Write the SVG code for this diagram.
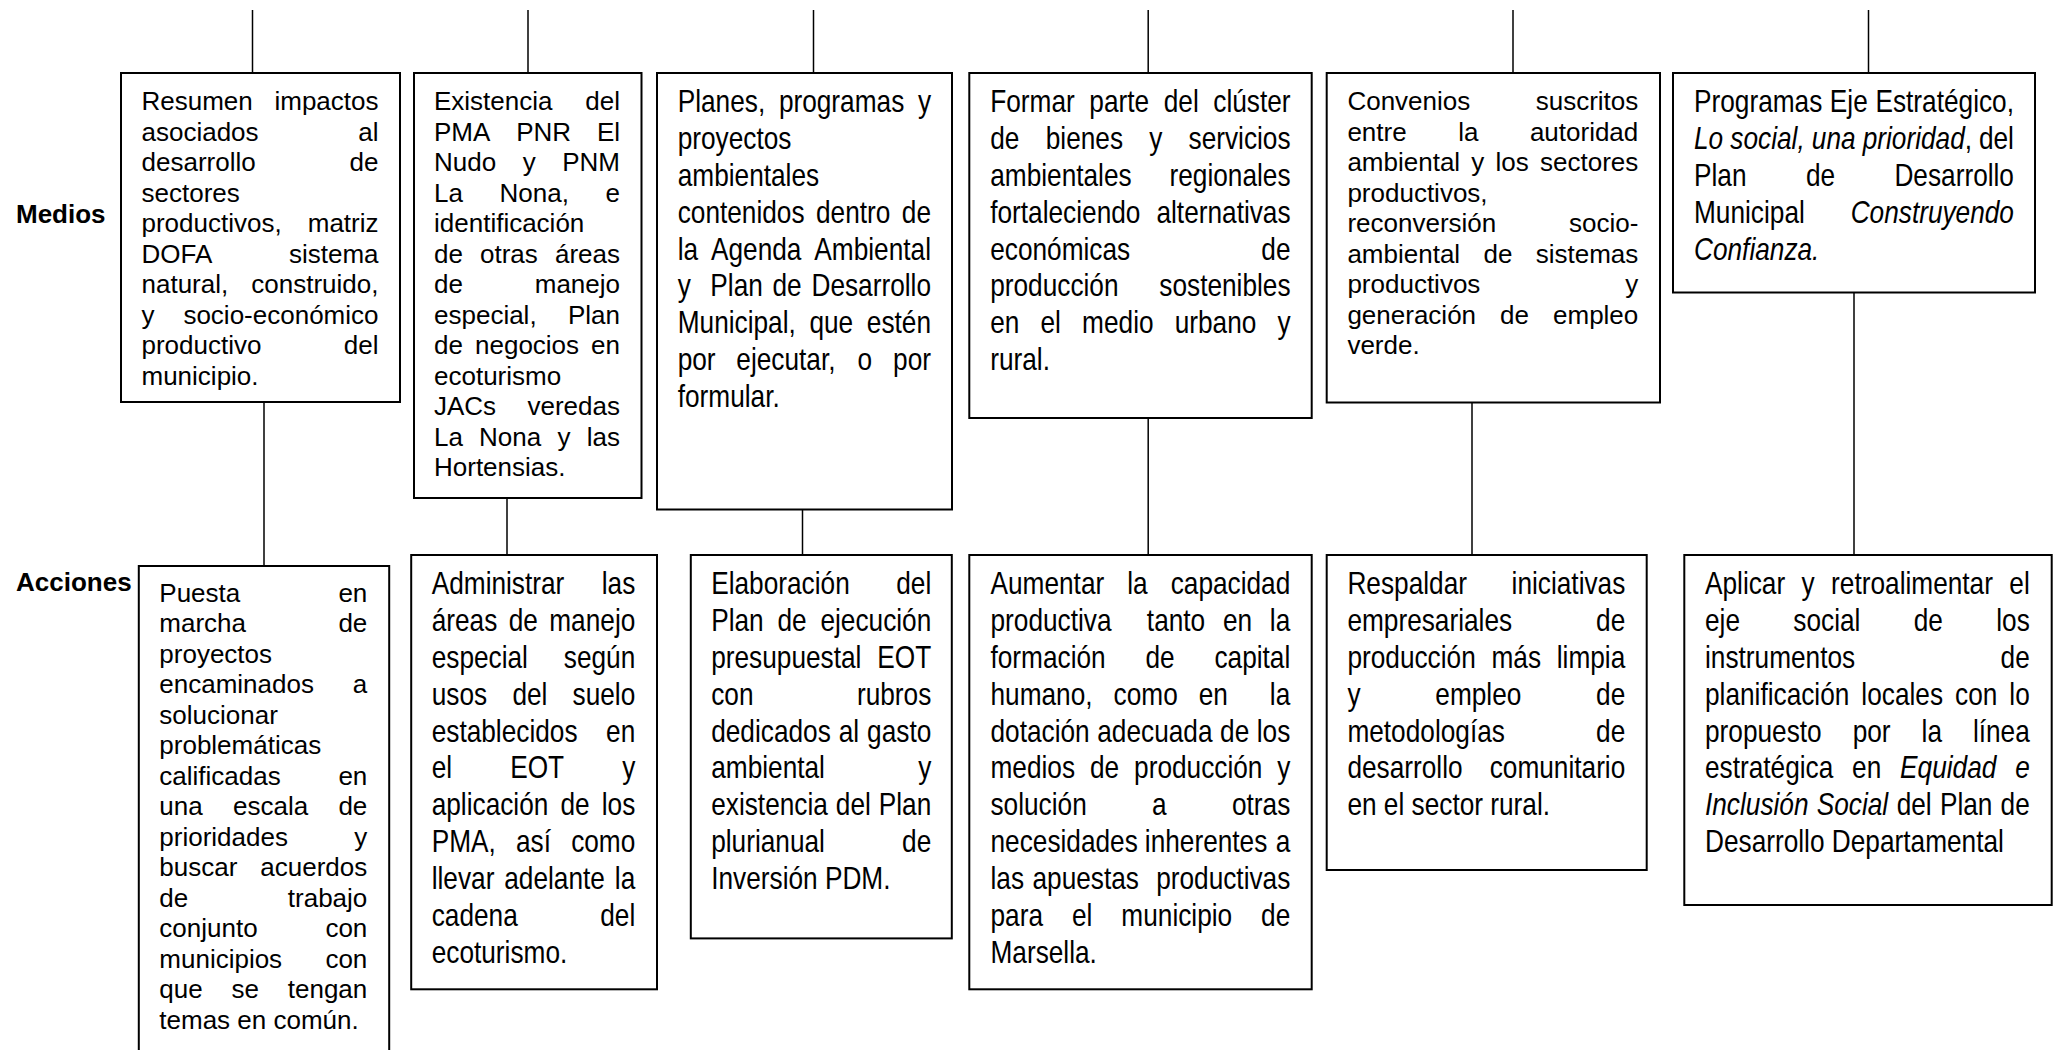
<svg xmlns="http://www.w3.org/2000/svg" width="2058" height="1050" viewBox="0 0 2058 1050">
<style>
text{font-family:'Liberation Sans',Arial,sans-serif;fill:#000}
.t{font-size:26px}
.n text{font-size:32px}
.e{text-anchor:end}
.i{font-style:italic}
.lab{font-size:26px;font-weight:bold}
.box{fill:#fff;stroke:#000;stroke-width:2}
.ln{stroke:#000;stroke-width:1.5;fill:none}
</style>
<rect width="2058" height="1050" fill="#fff"/>
<g id="connectors">
<line class="ln" x1="252.5" y1="10" x2="252.5" y2="73"/>
<line class="ln" x1="528" y1="10" x2="528" y2="73"/>
<line class="ln" x1="813.5" y1="10" x2="813.5" y2="73"/>
<line class="ln" x1="1148.2" y1="10" x2="1148.2" y2="73"/>
<line class="ln" x1="1513" y1="10" x2="1513" y2="73"/>
<line class="ln" x1="1868.5" y1="10" x2="1868.5" y2="73"/>
<line class="ln" x1="264" y1="402" x2="264" y2="566"/>
<line class="ln" x1="507" y1="498" x2="507" y2="555"/>
<line class="ln" x1="802.5" y1="509.5" x2="802.5" y2="555"/>
<line class="ln" x1="1148.2" y1="418" x2="1148.2" y2="555"/>
<line class="ln" x1="1472" y1="402.5" x2="1472" y2="555"/>
<line class="ln" x1="1854" y1="292.5" x2="1854" y2="555"/>
</g>
<g id="labels">
<text class="lab" x="16" y="223">Medios</text>
<text class="lab" x="16" y="590.5">Acciones</text>
</g>
<g id="m1">
<rect class="box" x="121" y="73" width="279" height="329"/>
<g class="t">
<text x="141.5" y="110">Resumen</text><text class="e" x="378.5" y="110">impactos</text>
<text x="141.5" y="140.5">asociados</text><text class="e" x="378.5" y="140.5">al</text>
<text x="141.5" y="171">desarrollo</text><text class="e" x="378.5" y="171">de</text>
<text x="141.5" y="201.5">sectores</text>
<text x="141.5" y="232">productivos,</text><text class="e" x="378.5" y="232">matriz</text>
<text x="141.5" y="262.5">DOFA</text><text class="e" x="378.5" y="262.5">sistema</text>
<text x="141.5" y="293">natural,</text><text class="e" x="378.5" y="293">construido,</text>
<text x="141.5" y="323.5">y</text><text class="e" x="378.5" y="323.5">socio-económico</text>
<text x="141.5" y="354">productivo</text><text class="e" x="378.5" y="354">del</text>
<text x="141.5" y="384.5">municipio.</text>
</g>
</g>
<g id="m2">
<rect class="box" x="414" y="73" width="227.5" height="425"/>
<g class="t">
<text x="434" y="110">Existencia</text><text class="e" x="620" y="110">del</text>
<text x="434" y="140.5">PMA <tspan x="516.2">PNR</tspan></text><text class="e" x="620" y="140.5">El</text>
<text x="434" y="171">Nudo <tspan x="522.7">y</tspan></text><text class="e" x="620" y="171">PNM</text>
<text x="434" y="201.5">La <tspan x="499.5">Nona,</tspan></text><text class="e" x="620" y="201.5">e</text>
<text x="434" y="232">identificación</text>
<text x="434" y="262.5">de <tspan x="480">otras</tspan></text><text class="e" x="620" y="262.5">áreas</text>
<text x="434" y="293">de</text><text class="e" x="620" y="293">manejo</text>
<text x="434" y="323.5">especial,</text><text class="e" x="620" y="323.5">Plan</text>
<text x="434" y="354">de <tspan x="475">negocios</tspan></text><text class="e" x="620" y="354">en</text>
<text x="434" y="384.5">ecoturismo</text>
<text x="434" y="415">JACs</text><text class="e" x="620" y="415">veredas</text>
<text x="434" y="445.5">La <tspan x="479.1">Nona</tspan> <tspan x="557.4">y</tspan></text><text class="e" x="620" y="445.5">las</text>
<text x="434" y="476">Hortensias.</text>
</g>
</g>
<g id="m3">
<rect class="box" x="657" y="73" width="295" height="436.5"/>
<g class="n" transform="translate(677.7 0) scale(0.82 1)">
<text x="0" y="112">Planes, <tspan x="123.4">programas</tspan></text><text class="e" x="308.9" y="112">y</text>
<text x="0" y="148.9">proyectos</text>
<text x="0" y="185.8">ambientales</text>
<text x="0" y="222.7">contenidos <tspan x="168.7">dentro</tspan></text><text class="e" x="308.9" y="222.7">de</text>
<text x="0" y="259.6">la <tspan x="40.6">Agenda</tspan></text><text class="e" x="308.9" y="259.6">Ambiental</text>
<text x="0" y="296.5">y <tspan x="39.8">Plan</tspan> <tspan x="115.6">de</tspan></text><text class="e" x="308.9" y="296.5">Desarrollo</text>
<text x="0" y="333.4">Municipal, <tspan x="160.6">que</tspan></text><text class="e" x="308.9" y="333.4">estén</text>
<text x="0" y="370.3">por <tspan x="71.5">ejecutar,</tspan> <tspan x="219.4">o</tspan></text><text class="e" x="308.9" y="370.3">por</text>
<text x="0" y="407.2">formular.</text>
</g>
</g>
<g id="m4">
<rect class="box" x="969.3" y="73" width="342.4" height="345"/>
<g class="n" transform="translate(990.2 0) scale(0.82 1)">
<text x="0" y="112">Formar <tspan x="120.9">parte</tspan> <tspan x="211.6">del</tspan></text><text class="e" x="366.3" y="112">clúster</text>
<text x="0" y="148.9">de <tspan x="67.7">bienes</tspan> <tspan x="194">y</tspan></text><text class="e" x="366.3" y="148.9">servicios</text>
<text x="0" y="185.8">ambientales</text><text class="e" x="366.3" y="185.8">regionales</text>
<text x="0" y="222.7">fortaleciendo</text><text class="e" x="366.3" y="222.7">alternativas</text>
<text x="0" y="259.6">económicas</text><text class="e" x="366.3" y="259.6">de</text>
<text x="0" y="296.5">producción</text><text class="e" x="366.3" y="296.5">sostenibles</text>
<text x="0" y="333.4">en <tspan x="61.3">el</tspan> <tspan x="112.1">medio</tspan> <tspan x="225">urbano</tspan></text><text class="e" x="366.3" y="333.4">y</text>
<text x="0" y="370.3">rural.</text>
</g>
</g>
<g id="m5">
<rect class="box" x="1326.7" y="73" width="333.3" height="329.5"/>
<g class="t">
<text x="1347.4" y="110">Convenios</text><text class="e" x="1638.3" y="110">suscritos</text>
<text x="1347.4" y="140.5">entre <tspan x="1458.2">la</tspan></text><text class="e" x="1638.3" y="140.5">autoridad</text>
<text x="1347.4" y="171">ambiental <tspan x="1471.3">y</tspan> <tspan x="1495.5">los</tspan></text><text class="e" x="1638.3" y="171">sectores</text>
<text x="1347.4" y="201.5">productivos,</text>
<text x="1347.4" y="232">reconversión</text><text class="e" x="1638.3" y="232">socio-</text>
<text x="1347.4" y="262.5">ambiental <tspan x="1483.5">de</tspan></text><text class="e" x="1638.3" y="262.5">sistemas</text>
<text x="1347.4" y="293">productivos</text><text class="e" x="1638.3" y="293">y</text>
<text x="1347.4" y="323.5">generación <tspan x="1500.1">de</tspan></text><text class="e" x="1638.3" y="323.5">empleo</text>
<text x="1347.4" y="354">verde.</text>
</g>
</g>
<g id="m6">
<rect class="box" x="1673" y="73" width="362" height="219.5"/>
<g class="n" transform="translate(1694 0) scale(0.82 1)">
<text x="0" y="112">Programas <tspan x="165.7">Eje</tspan></text><text class="e" x="390.2" y="112">Estratégico,</text>
<text x="0" y="148.9"><tspan class="i">Lo</tspan> <tspan class="i" x="44.3">social,</tspan> <tspan class="i" x="143.7">una</tspan> <tspan class="i" x="205.7">prioridad</tspan>,</text><text class="e" x="390.2" y="148.9">del</text>
<text x="0" y="185.8">Plan <tspan x="136.5">de</tspan></text><text class="e" x="390.2" y="185.8">Desarrollo</text>
<text x="0" y="222.7">Municipal</text><text class="e i" x="390.2" y="222.7">Construyendo</text>
<text class="i" x="0" y="259.6">Confianza.</text>
</g>
</g>
<g id="a1">
<rect class="box" x="138.8" y="566" width="250.4" height="520"/>
<g class="t">
<text x="159.3" y="601.7">Puesta</text><text class="e" x="367.3" y="601.7">en</text>
<text x="159.3" y="632.2">marcha</text><text class="e" x="367.3" y="632.2">de</text>
<text x="159.3" y="662.7">proyectos</text>
<text x="159.3" y="693.2">encaminados</text><text class="e" x="367.3" y="693.2">a</text>
<text x="159.3" y="723.7">solucionar</text>
<text x="159.3" y="754.2">problemáticas</text>
<text x="159.3" y="784.7">calificadas</text><text class="e" x="367.3" y="784.7">en</text>
<text x="159.3" y="815.2">una <tspan x="233">escala</tspan></text><text class="e" x="367.3" y="815.2">de</text>
<text x="159.3" y="845.7">prioridades</text><text class="e" x="367.3" y="845.7">y</text>
<text x="159.3" y="876.2">buscar</text><text class="e" x="367.3" y="876.2">acuerdos</text>
<text x="159.3" y="906.7">de</text><text class="e" x="367.3" y="906.7">trabajo</text>
<text x="159.3" y="937.2">conjunto</text><text class="e" x="367.3" y="937.2">con</text>
<text x="159.3" y="967.7">municipios</text><text class="e" x="367.3" y="967.7">con</text>
<text x="159.3" y="998.2">que <tspan x="231.5">se</tspan></text><text class="e" x="367.3" y="998.2">tengan</text>
<text x="159.3" y="1028.7">temas en común.</text>
</g>
</g>
<g id="a2">
<rect class="box" x="411.2" y="555" width="245.8" height="434.3"/>
<g class="n" transform="translate(431.7 0) scale(0.82 1)">
<text x="0" y="594">Administrar</text><text class="e" x="248.3" y="594">las</text>
<text x="0" y="630.9">áreas <tspan x="93.9">de</tspan></text><text class="e" x="248.3" y="630.9">manejo</text>
<text x="0" y="667.8">especial</text><text class="e" x="248.3" y="667.8">según</text>
<text x="0" y="704.7">usos <tspan x="98.4">del</tspan></text><text class="e" x="248.3" y="704.7">suelo</text>
<text x="0" y="741.6">establecidos</text><text class="e" x="248.3" y="741.6">en</text>
<text x="0" y="778.5">el <tspan x="95.7">EOT</tspan></text><text class="e" x="248.3" y="778.5">y</text>
<text x="0" y="815.4">aplicación <tspan x="157.1">de</tspan></text><text class="e" x="248.3" y="815.4">los</text>
<text x="0" y="852.3">PMA, <tspan x="102.8">así</tspan></text><text class="e" x="248.3" y="852.3">como</text>
<text x="0" y="889.2">llevar <tspan x="88.5">adelante</tspan></text><text class="e" x="248.3" y="889.2">la</text>
<text x="0" y="926.1">cadena</text><text class="e" x="248.3" y="926.1">del</text>
<text x="0" y="963">ecoturismo.</text>
</g>
</g>
<g id="a3">
<rect class="box" x="690.8" y="555" width="261" height="383.4"/>
<g class="n" transform="translate(711.2 0) scale(0.82 1)">
<text x="0" y="594">Elaboración</text><text class="e" x="268.4" y="594">del</text>
<text x="0" y="630.9">Plan <tspan x="80.9">de</tspan></text><text class="e" x="268.4" y="630.9">ejecución</text>
<text x="0" y="667.8">presupuestal</text><text class="e" x="268.4" y="667.8">EOT</text>
<text x="0" y="704.7">con</text><text class="e" x="268.4" y="704.7">rubros</text>
<text x="0" y="741.6">dedicados <tspan x="155.6">al</tspan></text><text class="e" x="268.4" y="741.6">gasto</text>
<text x="0" y="778.5">ambiental</text><text class="e" x="268.4" y="778.5">y</text>
<text x="0" y="815.4">existencia <tspan x="152">del</tspan></text><text class="e" x="268.4" y="815.4">Plan</text>
<text x="0" y="852.3">plurianual</text><text class="e" x="268.4" y="852.3">de</text>
<text x="0" y="889.2">Inversión PDM.</text>
</g>
</g>
<g id="a4">
<rect class="box" x="969.3" y="555" width="342.4" height="434.3"/>
<g class="n" transform="translate(990.5 0) scale(0.82 1)">
<text x="0" y="594">Aumentar <tspan x="166.8">la</tspan></text><text class="e" x="365.6" y="594">capacidad</text>
<text x="0" y="630.9">productiva <tspan x="190.7">tanto</tspan> <tspan x="283.5">en</tspan></text><text class="e" x="365.6" y="630.9">la</text>
<text x="0" y="667.8">formación <tspan x="189">de</tspan></text><text class="e" x="365.6" y="667.8">capital</text>
<text x="0" y="704.7">humano, <tspan x="150.1">como</tspan> <tspan x="254">en</tspan></text><text class="e" x="365.6" y="704.7">la</text>
<text x="0" y="741.6">dotación <tspan x="130.2">adecuada</tspan> <tspan x="280">de</tspan></text><text class="e" x="365.6" y="741.6">los</text>
<text x="0" y="778.5">medios <tspan x="121.3">de</tspan> <tspan x="175.1">producción</tspan></text><text class="e" x="365.6" y="778.5">y</text>
<text x="0" y="815.4">solución <tspan x="197">a</tspan></text><text class="e" x="365.6" y="815.4">otras</text>
<text x="0" y="852.3">necesidades <tspan x="188.2">inherentes</tspan></text><text class="e" x="365.6" y="852.3">a</text>
<text x="0" y="889.2">las <tspan x="51.2">apuestas</tspan></text><text class="e" x="365.6" y="889.2">productivas</text>
<text x="0" y="926.1">para <tspan x="99.4">el</tspan> <tspan x="159.6">municipio</tspan></text><text class="e" x="365.6" y="926.1">de</text>
<text x="0" y="963">Marsella.</text>
</g>
</g>
<g id="a5">
<rect class="box" x="1326.7" y="555" width="320" height="315"/>
<g class="n" transform="translate(1347.4 0) scale(0.82 1)">
<text x="0" y="594">Respaldar</text><text class="e" x="338.9" y="594">iniciativas</text>
<text x="0" y="630.9">empresariales</text><text class="e" x="338.9" y="630.9">de</text>
<text x="0" y="667.8">producción <tspan x="175.7">más</tspan></text><text class="e" x="338.9" y="667.8">limpia</text>
<text x="0" y="704.7">y <tspan x="107.2">empleo</tspan></text><text class="e" x="338.9" y="704.7">de</text>
<text x="0" y="741.6">metodologías</text><text class="e" x="338.9" y="741.6">de</text>
<text x="0" y="778.5">desarrollo</text><text class="e" x="338.9" y="778.5">comunitario</text>
<text x="0" y="815.4">en el sector rural.</text>
</g>
</g>
<g id="a6">
<rect class="box" x="1684.3" y="555" width="367.4" height="350"/>
<g class="n" transform="translate(1705 0) scale(0.82 1)">
<text x="0" y="594">Aplicar <tspan x="117.8">y</tspan> <tspan x="153.8">retroalimentar</tspan></text><text class="e" x="396.1" y="594">el</text>
<text x="0" y="630.9">eje <tspan x="107.7">social</tspan> <tspan x="254.5">de</tspan></text><text class="e" x="396.1" y="630.9">los</text>
<text x="0" y="667.8">instrumentos</text><text class="e" x="396.1" y="667.8">de</text>
<text x="0" y="704.7">planificación <tspan x="190.7">locales</tspan> <tspan x="305">con</tspan></text><text class="e" x="396.1" y="704.7">lo</text>
<text x="0" y="741.6">propuesto <tspan x="180.1">por</tspan> <tspan x="264.1">la</tspan></text><text class="e" x="396.1" y="741.6">línea</text>
<text x="0" y="778.5">estratégica <tspan x="179.4">en</tspan> <tspan class="i" x="237.9">Equidad</tspan></text><text class="e i" x="396.1" y="778.5">e</text>
<text x="0" y="815.4"><tspan class="i">Inclusión</tspan> <tspan class="i" x="136.3">Social</tspan> <tspan x="233.7">del</tspan> <tspan x="286.5">Plan</tspan></text><text class="e" x="396.1" y="815.4">de</text>
<text x="0" y="852.3">Desarrollo Departamental</text>
</g>
</g>
</svg>
